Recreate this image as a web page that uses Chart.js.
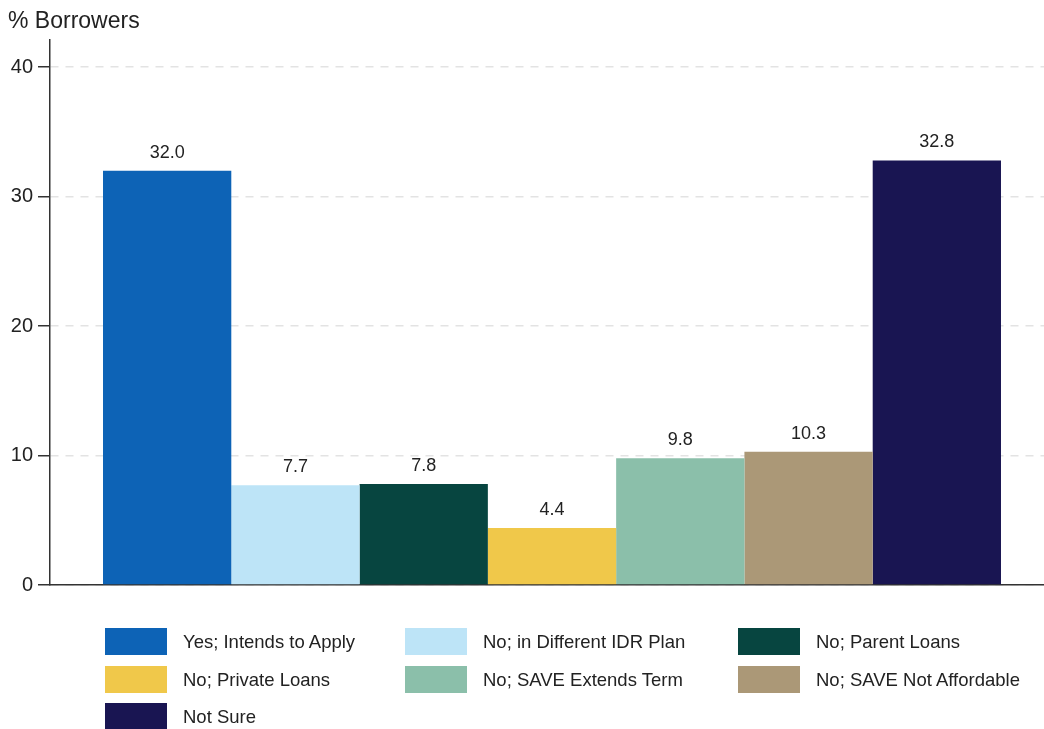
<!DOCTYPE html>
<html lang="en">
<head>
    <meta charset="UTF-8">
    <script src="https://cdn.jsdelivr.net/npm/chart.js"></script>
    <title>SAVE Plan Intentions</title>
</head>
<style>
    body { margin: 0; background: #fff; font-family: "Liberation Sans", Arial, sans-serif; color: #222; }
    .Wrap { position: relative; width: 1044px; height: 729px; overflow: hidden; }
    .Title { position: absolute; left: 8px; top: 6px; font-size: 23px; line-height: 28px; }
    .ChartBox { position: absolute; left: 0; top: 0; width: 1054px; height: 602px; }
    .Legend { position: absolute; left: 0; top: 0; width: 1044px; height: 729px; }
    .Item { position: absolute; display: flex; align-items: center; font-size: 18.5px; }
    .Swatch { width: 62px; height: 27px; margin-right: 16px; }
</style>
<body>
<div class="Wrap">
    <div class="ChartBox"><canvas id="chart" width="1054" height="602"></canvas></div>
    <div class="Title">% Borrowers</div>
    <div class="Legend" id="legend"></div>
</div>
<script>
    // data
    const categories = ['Yes; Intends to Apply', 'No; in Different IDR Plan', 'No; Parent Loans',
        'No; Private Loans', 'No; SAVE Extends Term', 'No; SAVE Not Affordable', 'Not Sure'];
    const values = [32.0, 7.7, 7.8, 4.4, 9.8, 10.3, 32.8];
    const colors = ['#0d63b6', '#bde4f7', '#074540', '#f0c84a', '#8bbfaa', '#ab9877', '#191552'];
    const yTicks = [0, 10, 20, 30, 40];

    var datasets = [];
    for (let i = 0; i < categories.length; i++) {
        datasets.push({
            label: categories[i],
            data: [values[i]],
            backgroundColor: colors[i],
            borderWidth: 0,
            barPercentage: 1,
            categoryPercentage: 0.8944
        });
    }

    // value labels above each bar
    const barLabels = {
        id: 'barLabels',
        afterDatasetsDraw(chart) {
            var ctx = chart.ctx;
            ctx.save();
            ctx.font = '18px "Liberation Sans", Arial, sans-serif';
            ctx.fillStyle = '#222';
            ctx.textAlign = 'center';
            ctx.textBaseline = 'bottom';
            chart.data.datasets.forEach((ds, i) => {
                var bar = chart.getDatasetMeta(i).data[0];
                ctx.fillText(ds.data[0].toFixed(1), bar.x, bar.y - 9);
            });
            ctx.restore();
        }
    };

    var chart = new Chart(document.getElementById('chart').getContext('2d'), {
        type: 'bar',
        data: { labels: [''], datasets: datasets },
        plugins: [barLabels],
        options: {
            responsive: false,
            animation: false,
            layout: { padding: { top: 40, right: 0, bottom: 0, left: 0 } },
            plugins: { legend: { display: false }, tooltip: { enabled: false } },
            scales: {
                x: {
                    ticks: { display: false },
                    grid: { display: false, drawTicks: false },
                    border: { display: true, color: '#333', width: 1.5 },
                    afterFit: (scale) => { scale.height = 15; }
                },
                y: {
                    min: 0,
                    max: 42.1,
                    afterBuildTicks: (scale) => { scale.ticks = yTicks.map(v => ({ value: v })); },
                    ticks: {
                        color: '#222',
                        padding: 5,
                        font: { family: '"Liberation Sans", Arial, sans-serif', size: 20 }
                    },
                    grid: {
                        color: '#e3e3e3',
                        lineWidth: 1.5,
                        tickColor: '#333',
                        tickLength: 12,
                        tickWidth: 1.5,
                        tickBorderDash: []
                    },
                    border: { color: '#333', width: 1.5, dash: [8, 7] },
                    afterFit: (scale) => { scale.width = 50; }
                }
            }
        }
    });

    // legend, three columns
    var legend = document.getElementById('legend');
    var colX = [105, 405, 738];
    var rowY = [628, 666, 703];
    categories.forEach((name, i) => {
        var item = document.createElement('div');
        item.className = 'Item';
        item.style.left = colX[i % 3] + 'px';
        item.style.top = rowY[Math.floor(i / 3)] + 'px';
        item.innerHTML = '<div class="Swatch" style="background:' + colors[i] + '"></div><span>' + name + '</span>';
        legend.appendChild(item);
    });
</script>
</body>
</html>
